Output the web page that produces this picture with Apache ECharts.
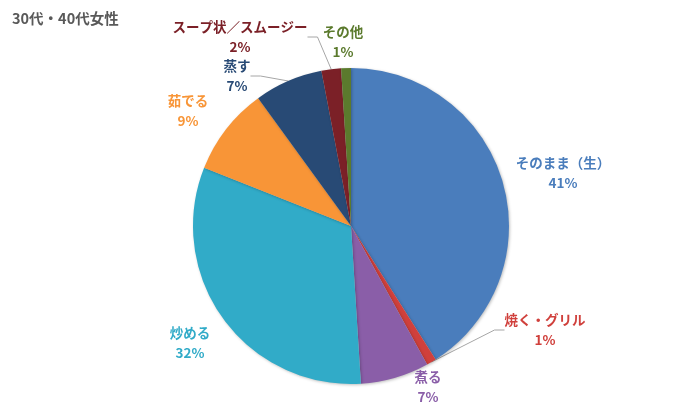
<!DOCTYPE html>
<html><head><meta charset="utf-8">
<script src="https://cdn.jsdelivr.net/npm/echarts@6/dist/echarts.min.js"></script>
<style>html,body{margin:0;padding:0;background:#fff}#c{width:700px;height:420px}</style>
</head><body><div id="c"></div>
<script>
var categories = ['そのまま（生）','焼く・グリル','煮る','炒める','茹でる','蒸す','スープ状／スムージー','その他'];
var values = [41,1,7,32,9,7,2,1];
var colors = ['#4a7dbc','#d0403c','#8a5ea8','#31abc8','#f89537','#284a75','#7b2027','#5b7a2d'];
var showLine = [false,true,false,false,false,true,true,false];
var labelAnchors = [[563,173],[545,330],[428,387],[190,343],[188,111],[237,76],[240,37],[343,42]];

var chart = echarts.init(document.getElementById('c'));
var data = categories.map(function(n,i){
  return {name:n,value:values[i],itemStyle:{color:colors[i]},
    label:{color:colors[i]},
    labelLine:{show:showLine[i]}};
});
chart.setOption({
  animation:false,
  title:{text:'30代・40代女性',left:7,top:6,textStyle:{fontSize:14.5,fontWeight:'bold',color:'#595959',fontFamily:'Noto Sans CJK JP'}},
  series:[{
    type:'pie',center:[351,226],radius:[0,158],startAngle:90,clockwise:true,
    data:data,
    itemStyle:{borderWidth:0,shadowBlur:3,shadowColor:'rgba(0,0,0,0.25)',shadowOffsetX:1,shadowOffsetY:1},
    label:{show:true,position:'outside',formatter:'{b}\n{d}%',fontSize:13.5,fontWeight:'bold',lineHeight:20,align:'center',fontFamily:'Noto Sans CJK JP'},
    labelLine:{lineStyle:{color:'#a6a6a6',width:1},length:10,length2:10},
    labelLayout:function(p){
      var a = labelAnchors[p.dataIndex];
      return {x:a[0],y:a[1],align:'center',verticalAlign:'middle'};
    }
  }]
});
</script></body></html>
